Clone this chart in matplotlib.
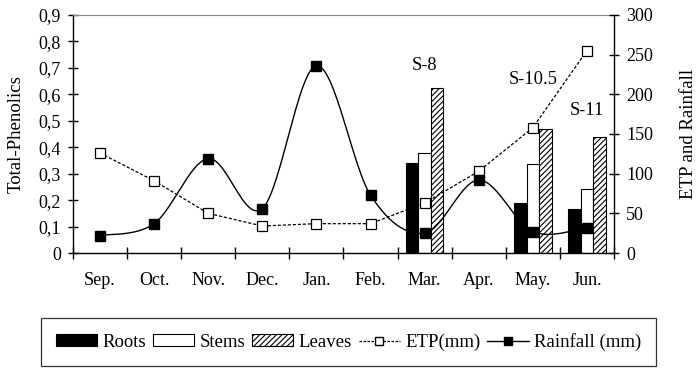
import matplotlib
matplotlib.use('Agg')

import matplotlib.pyplot as plt
import numpy as np
from matplotlib.patches import Patch
from matplotlib.lines import Line2D

plt.rcParams['font.family'] = ['Liberation Serif', 'DejaVu Serif']
plt.rcParams['hatch.linewidth'] = 0.8

months = ['Sep.', 'Oct.', 'Nov.', 'Dec.', 'Jan.', 'Feb.', 'Mar.', 'Apr.', 'May.', 'Jun.']
etp = [126, 91, 50, 34, 37, 37, 63, 103, 158, 255]
rainfall = [22, 37, 119, 56, 236, 73, 25, 92, 27, 32]

# bars only exist for three months
bar_months = [6, 8, 9]
roots = [0.339, 0.188, 0.166]
stems = [0.377, 0.337, 0.241]
leaves = [0.625, 0.468, 0.437]
stage_labels = ['S-8', 'S-10.5', 'S-11']

FS = 13


def smooth(x, y, n=30):
    # catmull-rom curve through the points, like a spreadsheet smoothed line
    p = np.column_stack([x, y]).astype(float)
    p = np.vstack([p[0], p, p[-1]])
    out = []
    for i in range(1, len(p) - 2):
        p0, p1, p2, p3 = p[i - 1], p[i], p[i + 1], p[i + 2]
        t = np.linspace(0, 1, n)[:, None]
        c = 0.5 * ((2 * p1) + (-p0 + p2) * t + (2 * p0 - 5 * p1 + 4 * p2 - p3) * t ** 2
                   + (-p0 + 3 * p1 - 3 * p2 + p3) * t ** 3)
        out.append(c)
    c = np.vstack(out)
    return c[:, 0], c[:, 1]


fig = plt.figure(figsize=(6.97, 3.70), dpi=100)
ax = fig.add_axes([0.1047, 0.3162, 0.7762, 0.6433])
ax2 = ax.twinx()

xb = np.array(bar_months)
w = 0.23
ax.bar(xb - w, roots, w, color='black', edgecolor='black', linewidth=0.8)
ax.bar(xb, stems, w, color='white', edgecolor='black', linewidth=0.8)
ax.bar(xb + w, leaves, w, color='white', edgecolor='black', linewidth=0.8, hatch='//////')

x = np.arange(len(months))
ax2.plot(x, etp, color='black', linestyle=(0, (2.5, 1.5)), linewidth=0.9,
         marker='s', markersize=6.5, markerfacecolor='white', markeredgecolor='black',
         markeredgewidth=0.9)
sx, sy = smooth(x, rainfall)
ax2.plot(sx, sy, color='black', linewidth=1.0)
ax2.plot(x, rainfall, linestyle='none', marker='s', markersize=6.5, color='black')

ax.set_xlim(-0.5, 9.5)
ax.set_ylim(0, 0.9)
ax2.set_ylim(0, 300)

ax.set_xticks(np.arange(-0.5, 10, 1))
ax.set_xticklabels([])
ax.set_xticks(x, minor=True)
ax.set_xticklabels(months, minor=True, fontsize=FS)
ax.tick_params(axis='x', which='major', direction='inout', length=8, width=1)
ax.tick_params(axis='x', which='minor', length=0, pad=14)

yt = np.arange(0, 0.91, 0.1)
ax.set_yticks(yt)
ax.set_yticklabels(['0'] + [('%.1f' % v).replace('.', ',') for v in yt[1:]], fontsize=FS)
ax.tick_params(axis='y', direction='inout', length=7.5, width=1, pad=5)

ax2.set_yticks(np.arange(0, 301, 50))
ax2.tick_params(axis='y', labelsize=FS, direction='inout', length=7.5, width=1, pad=5)

ax.set_ylabel('Total-Phenolics', fontsize=FS + 0.5, labelpad=10)
ax2.set_ylabel('ETP and Rainfall', fontsize=FS + 0.5, labelpad=19)

ax.spines['top'].set_color('#888888')
ax.spines['top'].set_linewidth(0.8)
ax.spines['right'].set_visible(False)
ax2.spines['top'].set_visible(False)
ax2.spines['left'].set_visible(False)
ax2.spines['bottom'].set_visible(False)
for s in ['left', 'bottom']:
    ax.spines[s].set_linewidth(1)
ax2.spines['right'].set_linewidth(1)

label_pos = [(6.0, 0.625), (8.0, 0.575), (9.0, 0.455)]
for lab, (lx, ly) in zip(stage_labels, label_pos):
    ax.text(lx, ly + 0.05, lab, ha='center', va='bottom', fontsize=FS + 0.3)

handles = [
    Patch(facecolor='black', edgecolor='black', linewidth=0.8),
    Patch(facecolor='white', edgecolor='black', linewidth=0.8),
    Patch(facecolor='white', edgecolor='black', linewidth=0.8, hatch='//////'),
    Line2D([], [], color='black', linestyle=(0, (2, 1.2)), linewidth=0.9, marker='s',
           markersize=5.5, markerfacecolor='white', markeredgecolor='black'),
    Line2D([], [], color='black', linewidth=1.0, marker='s', markersize=5.5),
]
names = ['Roots', 'Stems', 'Leaves', 'ETP(mm)', 'Rainfall (mm)']
leg = fig.legend(handles, names, loc='center', bbox_to_anchor=(0.5, 0.076), ncol=5,
                 fontsize=FS + 0.5, frameon=True, fancybox=False, edgecolor='black',
                 handlelength=2.2, handleheight=0.6, handletextpad=0.3, columnspacing=0.35,
                 borderpad=0.8, borderaxespad=0)
leg.get_frame().set_linewidth(0.9)

plt.savefig('out.png', dpi=100)
plt.close()
